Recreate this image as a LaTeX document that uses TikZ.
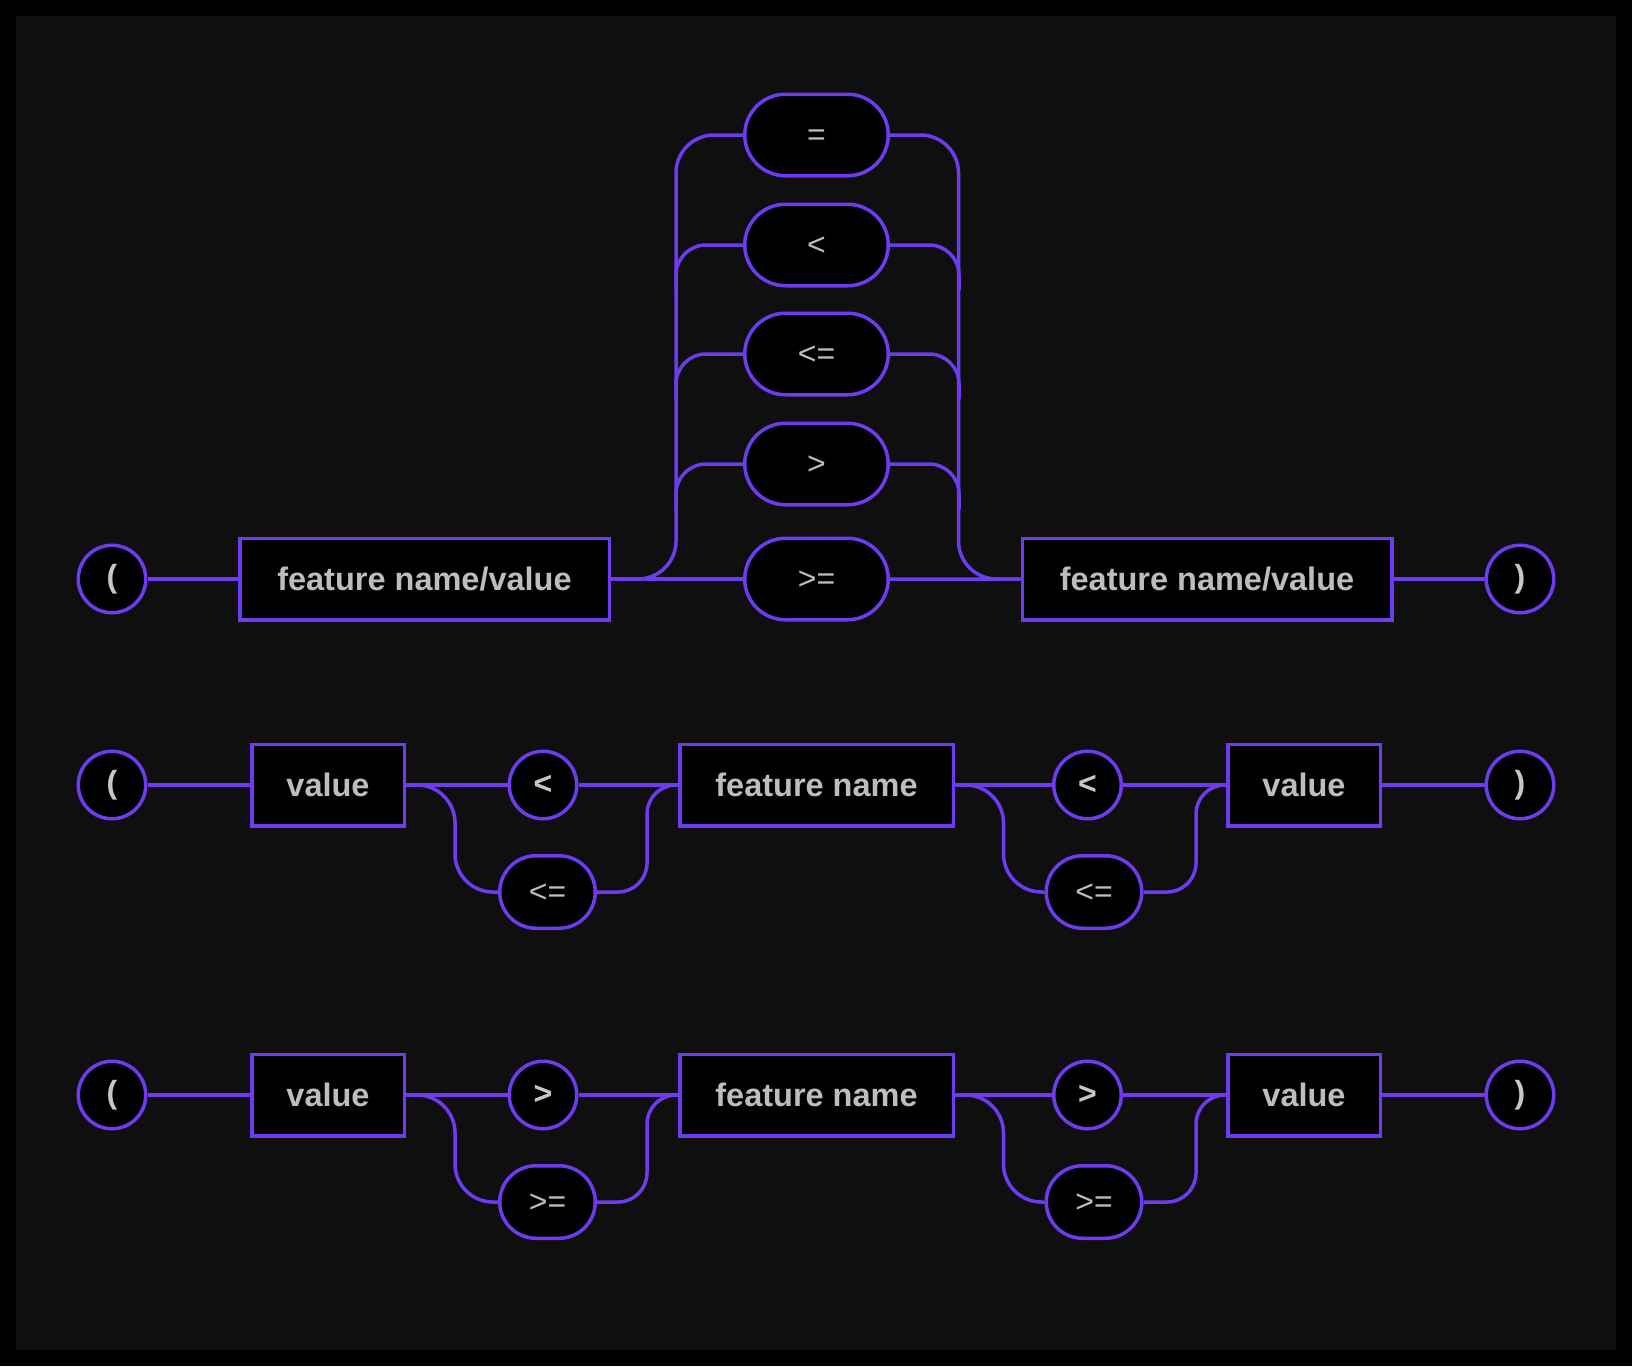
\documentclass[tikz,border=0pt]{standalone}
\usepackage{fontspec}
\setmainfont{Liberation Sans}
\usepackage{tikz}
\usetikzlibrary{positioning,calc,shapes.misc}
\definecolor{railpurple}{HTML}{6E3BEF}
\definecolor{labelgrey}{HTML}{BDBDBD}
\definecolor{panelgrey}{HTML}{0F0F0F}

\begin{document}
\begin{tikzpicture}[
			x=1pt,y=-1pt,
			rail/.style={draw=railpurple,line width=3.5pt},
			track/.style={rail,rounded corners=38pt},
			trackin/.style={rail,rounded corners=29pt},
			branch/.style={rail,rounded corners=30pt},
			term/.style={rail,fill=black,rectangle,minimum height=81.5pt,inner sep=0pt,text=labelgrey,font=\fontsize{32.5}{38}\selectfont\bfseries,text height=23pt,text depth=0pt},
			opbig/.style={rail,fill=black,rounded rectangle,minimum width=143.5pt,minimum height=81.5pt,inner sep=0pt,text=labelgrey,font=\fontsize{32}{38}\selectfont,text height=21.8pt,text depth=0pt},
			opsmall/.style={opbig,minimum width=95.5pt,minimum height=72.5pt},
			paren/.style={rail,fill=black,circle,minimum size=67.5pt,inner sep=0pt,text=labelgrey!85!white,font=\fontsize{32}{38}\selectfont\bfseries}
			]
			\useasboundingbox (0,0) rectangle (1632,1366);
			\fill[black] (0,0) rectangle (1632,1366);
			\fill[panelgrey] (16,16) rectangle (1616,1350);

			\node[paren] (open1) at (112,579) {(};
			\node[term,minimum width=369.5pt] (fv1) at (424.5,579) {feature name/value};
			\foreach \n/\yy/\op in {eq/135/{=},lt/245/{<},le/354/{<=},gt/464/{>},ge/579/{>=}}
				\node[opbig] (\n) at (816.5,\yy) {\op};
			\node[term,minimum width=369.5pt] (fv2) at (1207,579) {feature name/value};
			\node[paren] (close1) at (1520,579) {)};
			\draw[rail] (open1) -- (fv1);
			\draw[rail] (fv1) -- (ge);
			\draw[rail] (ge) -- (fv2);
			\draw[rail] (fv2) -- (close1);
			\draw[track] (fv1.east) -| ($(eq.west)+(-67,0)$) -- (eq.west);
			\draw[track] (eq.east) -| ($(fv2.west)+(-62,0)$) -- (fv2.west);
			\foreach \n in {lt,le,gt}{
				\draw[branch] ($(\n.west)+(-67,45)$) |- (\n.west);
				\draw[branch] (\n.east) -| ($(\n.east)+(69,45)$);
			}

			\foreach \r/\yy/\op/\ope in {a/785/{<}/{<=},b/1095/{>}/{>=}}{
				\node[paren] (open\r) at (112,\yy) {(};
				\node[term,minimum width=152.5pt] (vl\r) at (328,\yy) {value};
				\node[paren] (opl\r) at (543,\yy) {\op};
				\node[opsmall] (ople\r) at (547.5,\yy+107) {\ope};
				\node[term,minimum width=273.5pt] (fn\r) at (816.5,\yy) {feature name};
				\node[paren] (opr\r) at (1087.5,\yy) {\op};
				\node[opsmall] (opre\r) at (1094,\yy+107) {\ope};
				\node[term,minimum width=152.5pt] (vr\r) at (1304,\yy) {value};
				\node[paren] (close\r) at (1520,\yy) {)};
				\draw[rail] (open\r) -- (vl\r);
				\draw[rail] (vl\r) -- (opl\r);
				\draw[track] (vl\r.east) -| ($(ople\r.west)+(-43,0)$) -- (ople\r.west);
				\draw[rail] (opl\r) -- (fn\r);
				\draw[trackin] (ople\r.east) -| ($(fn\r.west)+(-31,0)$) -- (fn\r.west);
				\draw[rail] (fn\r) -- (opr\r);
				\draw[track] (fn\r.east) -| ($(opre\r.west)+(-41,0)$) -- (opre\r.west);
				\draw[rail] (opr\r) -- (vr\r);
				\draw[trackin] (opre\r.east) -| ($(vr\r.west)+(-30,0)$) -- (vr\r.west);
				\draw[rail] (vr\r) -- (close\r);
			}
		\end{tikzpicture}
\end{document}
